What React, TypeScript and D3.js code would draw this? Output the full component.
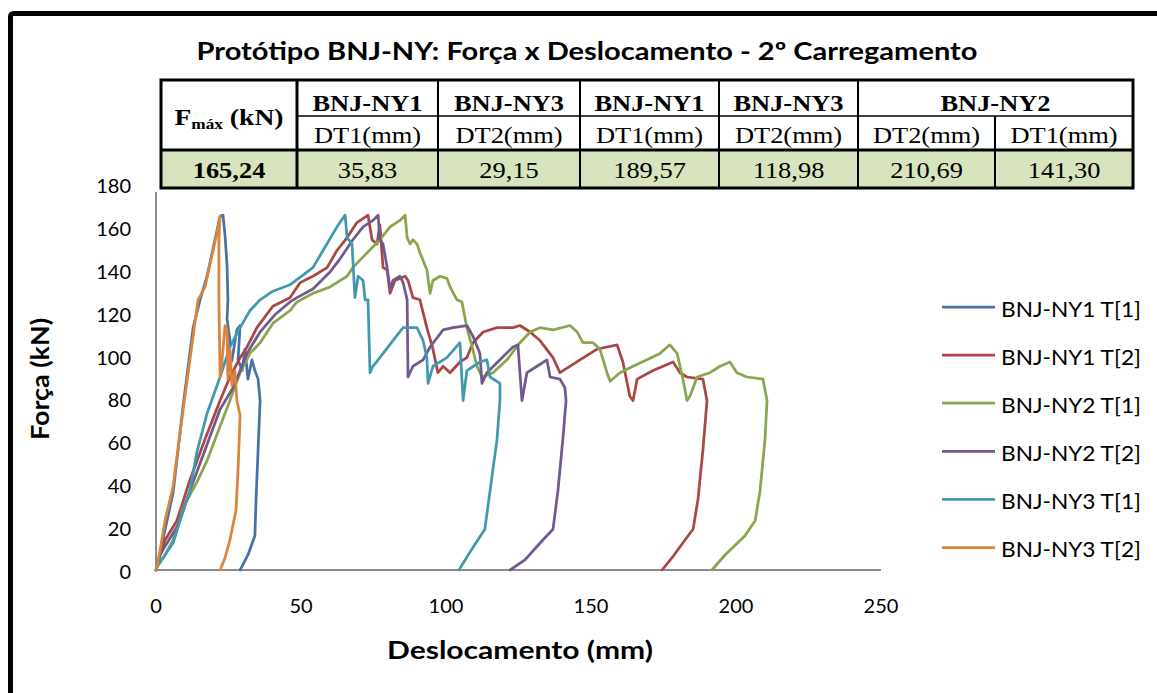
import * as d3 from "d3";

// axis ticks
const xTicks = [0, 50, 100, 150, 200, 250];
const yTicks = [0, 20, 40, 60, 80, 100, 120, 140, 160, 180];

const seriesNames = [
  "BNJ-NY1 T[1]",
  "BNJ-NY1 T[2]",
  "BNJ-NY2 T[1]",
  "BNJ-NY2 T[2]",
  "BNJ-NY3 T[1]",
  "BNJ-NY3 T[2]",
];
const seriesColors = ["#4572a7", "#aa4643", "#89a54e", "#71588f", "#4198af", "#db843d"];

// [deslocamento (mm), força (kN)]
const ny1t1: [number, number][] = [
  [0, 0], [0.3, 1.4], [3.8, 23], [5.9, 36], [9.3, 76], [12.8, 113], [15.2, 126], [17.6, 137],
  [22.1, 165], [23.1, 165.5], [23.8, 156], [24.5, 142], [24.8, 126], [24.5, 117], [25.5, 107],
  [24.8, 93], [26.2, 98], [27.9, 112], [29, 114], [28.3, 98], [29.7, 93], [30.7, 103],
  [31.7, 89], [33.1, 98], [34.1, 93], [35.2, 89], [35.9, 79], [35.2, 56], [34.5, 33],
  [34.1, 16], [31.7, 7], [29, 0],
];

const ny1t2: [number, number][] = [
  [0, 0], [1.4, 7], [3.1, 14], [7.2, 23], [11.7, 42], [16.9, 61], [22.1, 79], [25.5, 90],
  [29, 99], [31.4, 104], [34.8, 113], [40.3, 123], [46.2, 127], [49.7, 134], [54.1, 137],
  [59, 141], [62.4, 149], [65.9, 155], [69.3, 162], [73.1, 165.5], [74.5, 154], [76.2, 152],
  [77.2, 161], [78.3, 141], [79.7, 140], [80.7, 129], [82.4, 135], [85.9, 137], [86.9, 135],
  [88.6, 127], [91, 126], [93.4, 113], [95.5, 103], [97.2, 92], [99, 95], [101.4, 92],
  [104.8, 97], [107.2, 99], [109.3, 106], [112.8, 111], [117.6, 113], [123.1, 113],
  [125.5, 114], [129, 111], [132.4, 107], [136.9, 99], [139.3, 92], [146.2, 98], [152.1, 103],
  [155.5, 104], [159, 105], [161, 97], [163.4, 81], [164.5, 79], [165.9, 89], [171.4, 93],
  [178.3, 97], [180.7, 92], [183.1, 90], [188.6, 89], [190, 79], [188.6, 56], [186.9, 33],
  [185.2, 19], [182.4, 14], [177.9, 5.6], [174.5, 0],
];

const ny2t1: [number, number][] = [
  [0, 0], [0.3, 1.4], [3.1, 7], [5.9, 14], [9.3, 29], [14.1, 41], [17.6, 51], [22.1, 67],
  [25.5, 79], [29, 92], [32.4, 101], [35.9, 106], [40.3, 115], [46.2, 121], [48.6, 125],
  [54.1, 129], [60, 132], [65.9, 137], [67.9, 141], [71.4, 146], [77.2, 154], [80.7, 160],
  [84.1, 163], [85.9, 165.5], [86.6, 155], [87.6, 152], [88.6, 154], [90, 152], [91, 148],
  [93.4, 140], [94.5, 129], [95.5, 135], [97.9, 137], [100.3, 136], [101.4, 132], [103.8, 126],
  [105.5, 125], [107.2, 113], [109, 104], [110.7, 95], [112.4, 90], [116.2, 92], [121, 98],
  [125.5, 106], [129, 111], [132.4, 113], [136.9, 112], [142.8, 114], [145.2, 111],
  [147.2, 106], [150.7, 106], [153.1, 103], [155.5, 92], [156.6, 88], [160, 92], [164.5, 95],
  [169.3, 98], [173.8, 101], [177.2, 105], [179.7, 101], [181.7, 89], [183.1, 79], [184.1, 81],
  [186.6, 90], [191, 92], [194.5, 95], [197.9, 97], [200.3, 92], [203.8, 90], [209.3, 89],
  [210.7, 79], [210, 61], [208.3, 37], [206.6, 23], [203.1, 16], [196.2, 7], [191.7, 0],
];

const ny2t2: [number, number][] = [
  [0, 0], [1.4, 7], [3.4, 11.7], [7.6, 21], [11.7, 37], [16.9, 56], [22.1, 75], [26.6, 85],
  [31.4, 101], [35.9, 111], [41, 119], [46.2, 125], [48.6, 127], [54.1, 131], [60, 139],
  [63.4, 145], [67.9, 154], [71.4, 160], [74.8, 163], [76.6, 165.5], [77.2, 154], [78.3, 152],
  [79.7, 141], [80.7, 131], [81.7, 135], [84.1, 137], [85.2, 134], [86.6, 126], [86.9, 90],
  [88.6, 95], [92.1, 98], [94.5, 104], [99, 112], [102.4, 113], [107.2, 114], [109.3, 109],
  [111.7, 101], [112.4, 87], [114.1, 92], [118.6, 98], [123.1, 104], [124.8, 105], [126.2, 79],
  [127.9, 92], [131.4, 95], [134.8, 98], [135.9, 90], [139.3, 89], [141, 85], [141.4, 79],
  [140.3, 61], [138.6, 37], [136.9, 19], [133.4, 14], [127.2, 4.7], [122.1, 0],
];

const ny3t1: [number, number][] = [
  [0, 0], [0.3, 1.4], [5.9, 12.6], [8.3, 23], [11.7, 37], [14.1, 55], [17.6, 73], [22.1, 90],
  [25.5, 104], [29, 113], [32.4, 121], [35.9, 126], [40.3, 130], [46.2, 133], [54.1, 141],
  [57.6, 149], [62.4, 160], [65.2, 165.5], [65.9, 155], [67.6, 152], [68.6, 127], [69.7, 137],
  [71.4, 135], [72.1, 126], [73.1, 126], [73.8, 92], [74.8, 95], [77.2, 99], [81.7, 107],
  [85.2, 113], [90, 113], [92.1, 107], [93.4, 99], [93.8, 87], [95.5, 95], [100.3, 99],
  [104.8, 106], [105.9, 79], [107.2, 93], [111.7, 97], [114.1, 98], [115.2, 90], [118.6, 87],
  [118.6, 79], [117.6, 61], [115.2, 37], [113.4, 19], [110, 12], [105.5, 2.3], [104.5, 0],
];

const ny3t2: [number, number][] = [
  [0, 0], [0.3, 1.4], [1.4, 9.3], [3.1, 23], [5.9, 39], [8.3, 64], [11.7, 98], [14.5, 126],
  [16.9, 132], [21, 157], [22.1, 165], [21.7, 154], [21.7, 126], [22.1, 90], [22.8, 98],
  [23.8, 114], [24.5, 112], [24.8, 89], [25.5, 103], [26.2, 86], [27.2, 93], [27.9, 79],
  [29, 72], [28.3, 47], [27.6, 28], [25.5, 14], [23.8, 5.6], [22.1, 0],
];

const seriesData = [ny1t1, ny1t2, ny2t1, ny2t2, ny3t1, ny3t2];

// results table
const fmaxLabel = "F";
const fmaxValue = "165,24";
const tableGroups = ["BNJ-NY1", "BNJ-NY3", "BNJ-NY1", "BNJ-NY3", "BNJ-NY2"];
const groupSpans = [1, 1, 1, 1, 2];
const sensorLabels = ["DT1(mm)", "DT2(mm)", "DT1(mm)", "DT2(mm)", "DT2(mm)", "DT1(mm)"];
const maxDisplacements = ["35,83", "29,15", "189,57", "118,98", "210,69", "141,30"];

const W = 1157;
const H = 693;
const sansFont = "Lato, 'Open Sans', sans-serif";
const serifFont = "'Liberation Serif', 'Times New Roman', serif";

const x = d3.scaleLinear().domain([0, 250]).range([156, 881]);
const y = d3.scaleLinear().domain([0, 180]).range([570, 184]);

const line = d3
  .line<[number, number]>()
  .x((d) => x(d[0]))
  .y((d) => y(d[1]));

// table layout
const colEdges = [161, 297, 438, 580, 719, 858, 995, 1133];
const rowEdges = [80, 116, 150, 188];
const stretch = 1.15;

const App = () => {
  const groupCells: { x0: number; x1: number; label: string }[] = [];
  let c = 1;
  tableGroups.forEach((g, i) => {
    groupCells.push({ x0: colEdges[c], x1: colEdges[c + groupSpans[i]], label: g });
    c += groupSpans[i];
  });

  const cellText = (cx: number, by: number, txt: string, bold: boolean) => (
    <text
      key={`${cx}-${by}`}
      transform={`translate(${cx},${by}) scale(${stretch},1)`}
      textAnchor="middle"
      fontFamily={serifFont}
      fontSize={23}
      fontWeight={bold ? "bold" : "normal"}
      fill="#000"
    >
      {txt}
    </text>
  );

  return (
    <svg
      width={W}
      height={H}
      style={{ position: "absolute", left: 0, top: 0, display: "block", background: "#fff" }}
    >
      {/* outer frame */}
      <rect x={10.5} y={13.5} width={1300} height={900} rx={3} fill="none" stroke="#000" strokeWidth={5} />

      <text
        x={587}
        y={60}
        textAnchor="middle"
        fontFamily={sansFont}
        fontWeight="bold"
        fontSize={24}
        textLength={781}
        lengthAdjust="spacingAndGlyphs"
      >
        Protótipo BNJ-NY: Força x Deslocamento - 2º Carregamento
      </text>

      {/* axes */}
      <line x1={x(0)} x2={x(250)} y1={y(0)} y2={y(0)} stroke="#8c8c8c" strokeWidth={2} />
      <line x1={x(0)} x2={x(0)} y1={y(0)} y2={y(180)} stroke="#8c8c8c" strokeWidth={2} />
      {yTicks.map((t) => (
        <text
          key={`y${t}`}
          x={131}
          y={y(t) + 1}
          textAnchor="end"
          dominantBaseline="central"
          fontFamily={sansFont}
          fontSize={20}
        >
          {t}
        </text>
      ))}
      {xTicks.map((t) => (
        <text key={`x${t}`} x={x(t)} y={613} textAnchor="middle" fontFamily={sansFont} fontSize={20}>
          {t}
        </text>
      ))}

      <text
        transform="translate(49,379) rotate(-90)"
        textAnchor="middle"
        fontFamily={sansFont}
        fontWeight="bold"
        fontSize={25}
        textLength={122}
        lengthAdjust="spacingAndGlyphs"
      >
        Força (kN)
      </text>
      <text
        x={520}
        y={659}
        textAnchor="middle"
        fontFamily={sansFont}
        fontWeight="bold"
        fontSize={25}
        textLength={266}
        lengthAdjust="spacingAndGlyphs"
      >
        Deslocamento (mm)
      </text>

      {/* series */}
      {seriesData.map((s, i) => (
        <path
          key={seriesNames[i]}
          d={line(s) ?? ""}
          fill="none"
          stroke={seriesColors[i]}
          strokeWidth={2.75}
          strokeLinejoin="round"
          strokeLinecap="round"
        />
      ))}

      {/* legend */}
      {seriesNames.map((n, i) => {
        const ly = 307 + i * 48.1;
        return (
          <g key={`lg${n}`}>
            <line x1={942} x2={995} y1={ly} y2={ly} stroke={seriesColors[i]} strokeWidth={2.75} />
            <text
              x={1001}
              y={ly + 1}
              dominantBaseline="central"
              fontFamily={sansFont}
              fontSize={21}
              textLength={140}
              lengthAdjust="spacingAndGlyphs"
            >
              {n}
            </text>
          </g>
        );
      })}

      {/* results table */}
      <rect x={150} y={74} width={992} height={118} fill="#fff" />
      <rect
        x={colEdges[0]}
        y={rowEdges[2]}
        width={colEdges[7] - colEdges[0]}
        height={rowEdges[3] - rowEdges[2]}
        fill="#d7e4bd"
      />
      {/* horizontal rules */}
      <line x1={colEdges[1]} x2={colEdges[7]} y1={rowEdges[1]} y2={rowEdges[1]} stroke="#000" strokeWidth={1.5} />
      <line x1={colEdges[0]} x2={colEdges[7]} y1={rowEdges[2]} y2={rowEdges[2]} stroke="#000" strokeWidth={3} />
      {/* vertical rules */}
      {colEdges.slice(1, 7).map((cx, i) => (
        <line
          key={`v${i}`}
          x1={cx}
          x2={cx}
          y1={cx === colEdges[6] ? rowEdges[1] : rowEdges[0]}
          y2={rowEdges[3]}
          stroke="#000"
          strokeWidth={i === 0 ? 3 : 2}
        />
      ))}
      <rect
        x={colEdges[0]}
        y={rowEdges[0]}
        width={colEdges[7] - colEdges[0]}
        height={rowEdges[3] - rowEdges[0]}
        fill="none"
        stroke="#000"
        strokeWidth={3}
      />

      <text
        transform={`translate(${(colEdges[0] + colEdges[1]) / 2},125) scale(${stretch},1)`}
        textAnchor="middle"
        fontFamily={serifFont}
        fontWeight="bold"
        fontSize={24}
      >
        {fmaxLabel}
        <tspan fontSize={15} dy={4}>máx</tspan>
        <tspan dy={-4}> (kN)</tspan>
      </text>
      {groupCells.map((g) => cellText((g.x0 + g.x1) / 2, 111, g.label, true))}
      {sensorLabels.map((s, i) => cellText((colEdges[i + 1] + colEdges[i + 2]) / 2, 143, s, false))}
      {cellText((colEdges[0] + colEdges[1]) / 2, 178, fmaxValue, true)}
      {maxDisplacements.map((v, i) => cellText((colEdges[i + 1] + colEdges[i + 2]) / 2, 178, v, false))}
    </svg>
  );
};

export default App;
